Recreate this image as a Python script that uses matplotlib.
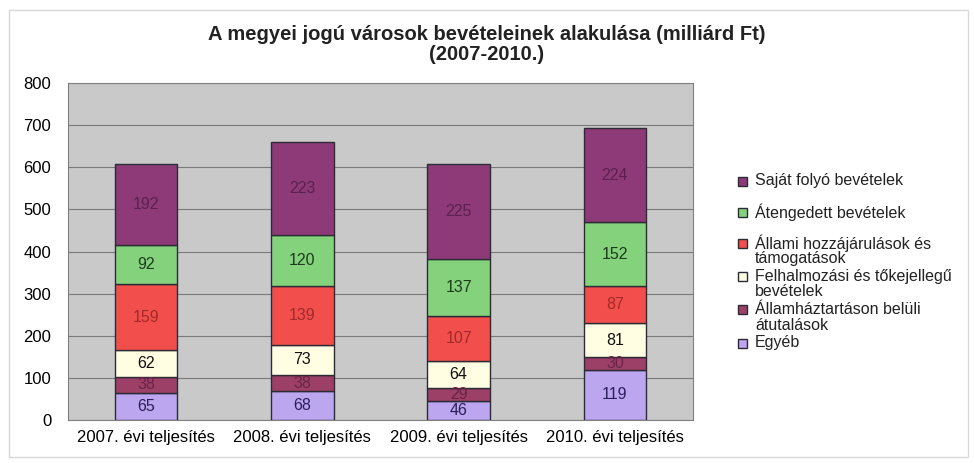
import matplotlib
matplotlib.use('Agg')
from matplotlib import pyplot as plt
from matplotlib.patches import Rectangle
import numpy as np

plt.rcParams['font.family'] = ['Liberation Sans', 'DejaVu Sans']

years = ['2007. évi teljesítés', '2008. évi teljesítés',
         '2009. évi teljesítés', '2010. évi teljesítés']

# bottom to top
egyeb = [65, 68, 46, 119]
allamhaz = [38, 38, 29, 30]
felhalm = [62, 73, 64, 81]
allami = [159, 139, 107, 87]
atengedett = [92, 120, 137, 152]
sajat = [192, 223, 225, 224]

series = [
    ('Egyéb', egyeb, '#bca6f0', '#2a1e5a'),
    ('Államháztartáson belüli\nátutalások', allamhaz, '#9c4068', '#6a2448'),
    ('Felhalmozási és tőkejellegű\nbevételek', felhalm, '#fffde2', '#111111'),
    ('Állami hozzájárulások és\ntámogatások', allami, '#f24f4c', '#a02a2a'),
    ('Átengedett bevételek', atengedett, '#84d27c', '#1e3a1e'),
    ('Saját folyó bevételek', sajat, '#8e3a78', '#5a2150'),
]

W, H = 974, 463
fig = plt.figure(figsize=(W / 100, H / 100), dpi=100)
fig.patches.append(Rectangle((0.009, 0.012), 0.985, 0.966, transform=fig.transFigure,
                             fill=False, edgecolor='#d8d8d8', linewidth=1))
ax = fig.add_axes([68 / W, 1 - 420 / H, 625 / W, 337 / H])
ax.set_facecolor('#c9c9c9')

x = np.arange(len(years))
bottom = np.zeros(len(years))
for name, vals, color, tcolor in series:
    vals = np.array(vals, dtype=float)
    ax.bar(x, vals, 0.4, bottom=bottom, color=color, edgecolor='#2b2b35',
           linewidth=1, zorder=3)
    for xi, b, v in zip(x, bottom, vals):
        ax.text(xi, b + v / 2, '%d' % v, ha='center', va='center',
                fontsize=11.5, color=tcolor, zorder=4)
    bottom += vals

ax.set_xlim(-0.5, 3.5)
ax.set_ylim(0, 800)
ax.set_yticks(range(0, 801, 100))
ax.set_xticks(x)
ax.set_xticklabels(years, fontsize=12)
ax.tick_params(axis='y', labelsize=12, length=0, pad=12)
ax.tick_params(axis='x', length=0, pad=7)
ax.grid(axis='y', color='#7a7a7a', linewidth=0.8, zorder=1)
for sp in ax.spines.values():
    sp.set_color('#808080')

fig.text(0.5, 1 - 34 / H, 'A megyei jogú városok bevételeinek alakulása (milliárd Ft)',
         ha='center', va='center', fontsize=14.5, fontweight='bold', color='#222222')
fig.text(0.5, 1 - 54 / H, '(2007-2010.)', ha='center', va='center',
         fontsize=14.5, fontweight='bold', color='#222222')

# legend drawn by hand, top entry first (pixel rows of each entry)
leg_y = [181, 212, 243, 276, 309, 343]
for (name, vals, color, tcolor), y in zip(series[::-1], leg_y):
    fig.patches.append(Rectangle((738 / W, 1 - (y + 5) / H), 9 / W, 9 / H,
                                 transform=fig.transFigure, facecolor=color,
                                 edgecolor='#2b2b35', linewidth=1))
    for k, line in enumerate(name.split('\n')):
        fig.text(755 / W, 1 - (y + 16 * k) / H, line, ha='left', va='center',
                 fontsize=11.5, color='#222222')

plt.savefig('out.png', dpi=100)
plt.close()
